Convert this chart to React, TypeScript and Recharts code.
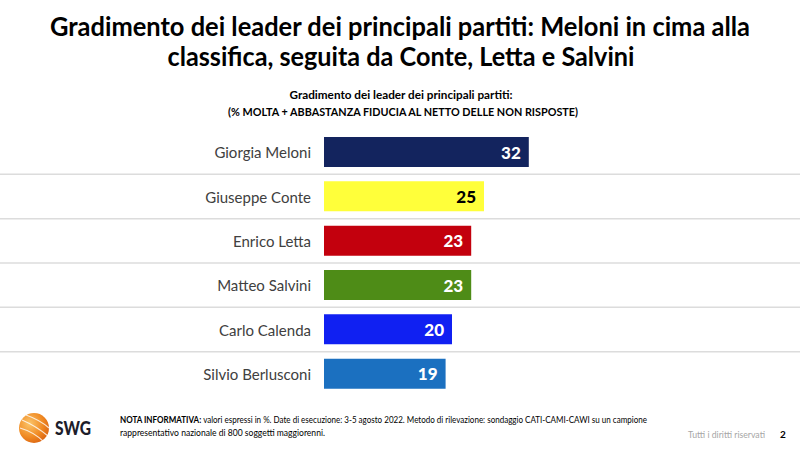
import React from "react";
import { BarChart, Bar, XAxis, YAxis, Cell, LabelList } from "recharts";

const leaders = ["Giorgia Meloni", "Giuseppe Conte", "Enrico Letta", "Matteo Salvini", "Carlo Calenda", "Silvio Berlusconi"];
const fiducia = [32, 25, 23, 23, 20, 19];
const barColors = ["#13245e", "#ffff3a", "#c3000d", "#4e8c17", "#1020f2", "#1b70c0"];
const labelColors = ["#ffffff", "#000000", "#ffffff", "#ffffff", "#ffffff", "#ffffff"];

const titleLines = [
  "Gradimento dei leader dei principali partiti: Meloni in cima alla",
  "classifica, seguita da Conte, Letta e Salvini",
];
const subtitleLines = [
  "Gradimento dei leader dei principali partiti:",
  "(% MOLTA + ABBASTANZA FIDUCIA AL NETTO DELLE NON RISPOSTE)",
];
const noteBold = "NOTA INFORMATIVA:";
const noteLine1 = " valori espressi in %. Date di esecuzione: 3-5 agosto 2022. Metodo di rilevazione: sondaggio CATI-CAMI-CAWI su un campione";
const noteLine2 = "rappresentativo nazionale di 800 soggetti maggiorenni.";

const data = leaders.map((name, i) => ({ name, value: fiducia[i] }));

const W = 800;
const H = 455;
const M = { top: 130, right: 220, bottom: 59, left: 0 };
const HALF_BAND = (H - M.top - M.bottom) / leaders.length / 2;
const FONT = "Lato, 'Open Sans', sans-serif";

const LeaderTick = (props: any) => {
  const { x, y, payload, index } = props;
  return (
    <g>
      <text x={x} y={y} textAnchor="end" dominantBaseline="central" fontFamily={FONT} fontSize={15} fill="#404040">
        {payload.value}
      </text>
      {index < leaders.length - 1 && (
        <line x1={0} x2={W} y1={y + HALF_BAND} y2={y + HALF_BAND} stroke="#dcdcdc" strokeWidth={1.5} />
      )}
    </g>
  );
};

const ValueLabel = (props: any) => {
  const { x, y, width, height, value, index } = props;
  return (
    <text
      x={x + width - 8}
      y={y + height / 2}
      textAnchor="end"
      dominantBaseline="central"
      fontFamily={FONT}
      fontWeight={900}
      fontSize={17}
      fill={labelColors[index]}
    >
      {value}
    </text>
  );
};

const Logo = () => (
  <g>
    <defs>
      <radialGradient id="lg" cx="35%" cy="35%" r="75%">
        <stop offset="0%" stopColor="#fbc56a" />
        <stop offset="60%" stopColor="#f08a23" />
        <stop offset="100%" stopColor="#d9600f" />
      </radialGradient>
    </defs>
    <circle cx={34} cy={428} r={15} fill="url(#lg)" />
    <path d="M22 420 Q36 426 48 436" stroke="#fff" strokeWidth={1.2} fill="none" opacity={0.8} />
    <path d="M20 428 Q34 432 44 442" stroke="#fff" strokeWidth={1.2} fill="none" opacity={0.8} />
    <path d="M26 415 Q40 420 49 428" stroke="#fff" strokeWidth={1.2} fill="none" opacity={0.8} />
    <text x={55} y={435} fontFamily={FONT} fontWeight={900} fontSize={18} fill="#1d1d2b" textLength={36} lengthAdjust="spacingAndGlyphs">SWG</text>
  </g>
);

export default function App() {
  return (
    <div style={{ position: "absolute", left: 0, top: 0, width: W, height: H, background: "#fff" }}>
      <svg width={W} height={H} style={{ position: "absolute", left: 0, top: 0 }}>
        <text x={400} y={36} textAnchor="middle" fontFamily={FONT} fontWeight={700} fontSize={27} fill="#000" textLength={700} lengthAdjust="spacingAndGlyphs">
          {titleLines[0]}
        </text>
        <text x={401} y={66} textAnchor="middle" fontFamily={FONT} fontWeight={700} fontSize={27} fill="#000" textLength={467} lengthAdjust="spacingAndGlyphs">
          {titleLines[1]}
        </text>
        <text x={401} y={99} textAnchor="middle" fontFamily={FONT} fontWeight={700} fontSize={11.5} fill="#000" textLength={223} lengthAdjust="spacingAndGlyphs">
          {subtitleLines[0]}
        </text>
        <text x={403} y={116} textAnchor="middle" fontFamily={FONT} fontWeight={700} fontSize={11.5} fill="#000" textLength={350} lengthAdjust="spacingAndGlyphs">
          {subtitleLines[1]}
        </text>
        <Logo />
        <text x={120} y={423} fontFamily={FONT} fontSize={8.5} fill="#000" textLength={527} lengthAdjust="spacingAndGlyphs">
          <tspan fontWeight={700}>{noteBold}</tspan>
          <tspan>{noteLine1}</tspan>
        </text>
        <text x={120} y={436} fontFamily={FONT} fontSize={8.5} fill="#000" textLength={205} lengthAdjust="spacingAndGlyphs">
          {noteLine2}
        </text>
        <text x={688} y={438} fontFamily={FONT} fontSize={9} fill="#a6a6a6" textLength={77} lengthAdjust="spacingAndGlyphs">
          Tutti i diritti riservati
        </text>
        <text x={780} y={438} fontFamily={FONT} fontWeight={700} fontSize={10} fill="#000">2</text>
      </svg>
      <div style={{ position: "absolute", left: 0, top: 0 }}>
        <BarChart width={W} height={H} data={data} layout="vertical" margin={M} barSize={30}>
          <XAxis type="number" domain={[0, 40]} hide />
          <YAxis
            type="category"
            dataKey="name"
            width={324}
            axisLine={false}
            tickLine={false}
            tickSize={0}
            tickMargin={13}
            interval={0}
            tick={<LeaderTick />}
          />
          <Bar dataKey="value" isAnimationActive={false}>
            {data.map((d, i) => (
              <Cell key={d.name} fill={barColors[i]} />
            ))}
            <LabelList dataKey="value" content={<ValueLabel />} />
          </Bar>
        </BarChart>
      </div>
    </div>
  );
}
